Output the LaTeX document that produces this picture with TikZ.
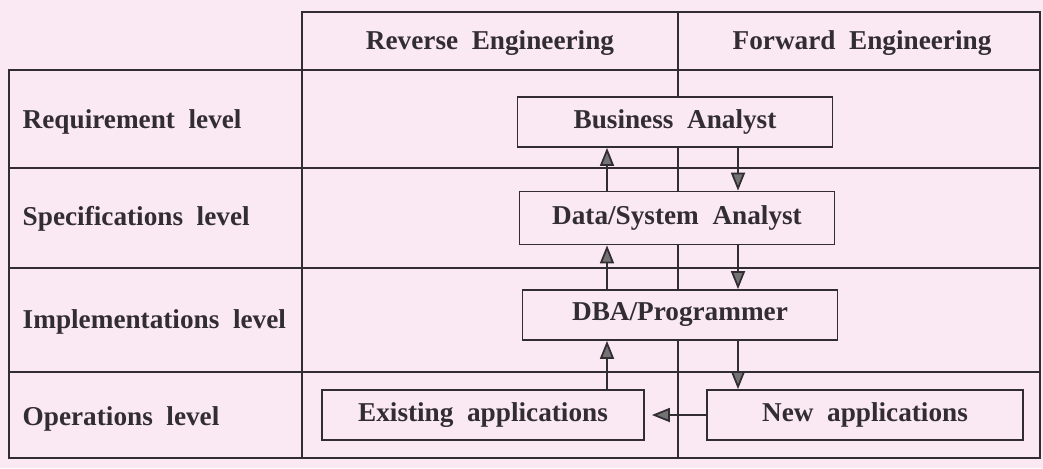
\documentclass[tikz,border=0pt]{standalone}
\usepackage{fontspec}
\setmainfont{Liberation Serif}
\usetikzlibrary{arrows.meta}
\definecolor{paper}{RGB}{250,233,242}
\definecolor{ink}{RGB}{50,45,50}

\begin{document}
\begin{tikzpicture}[x=0.02cm, y=-0.02cm, line width=1pt, ink,
    font=\fontsize{15.5}{18}\selectfont\bfseries,
    box/.style={draw=ink, fill=paper, minimum width=6.3cm, minimum height=1cm, inner sep=0pt},
    arr/.style={-{Triangle[length=0.36cm, width=0.28cm, fill=black!55]}}]
			%%%%% START %%%%%
			
			\fill[paper] (0, 0) rectangle (1043, 468);
			\useasboundingbox (0, 0) rectangle (1043, 468);
			
			% table grid
			\draw (302, 70) -- (302, 12) -- (1040, 12) -- (1040, 458) -- (9, 458) -- (9, 70) -- (1040, 70);
			\draw (302, 70) -- (302, 458);
			\draw (9, 168) -- (1040, 168);
			\draw (9, 268) -- (1040, 268);
			\draw (9, 372) -- (1040, 372);
			\draw (678, 12) -- (678, 458);
			
			% headings
			\node (rev) at (490, 43) {Reverse\ \ Engineering};
			\node (fwd) at (862, 43) {Forward\ \ Engineering};
			\node[anchor=west] (req) at (16, 122) {Requirement\ \ level};
			\node[anchor=west] (spec) at (16, 219) {Specifications\ \ level};
			\node[anchor=west] (impl) at (16, 322) {Implementations\ \ level};
			\node[anchor=west] (oper) at (16, 419) {Operations\ \ level};
			
			% roles
			\node[box] (ba) at (675, 122) {Business\ \ Analyst};
			\node[box, minimum height=1.06cm] (dsa) at (677, 218) {Data/System\ \ Analyst};
			\node[box] (dba) at (680, 315) {DBA/Programmer};
			\node[box, minimum width=6.44cm] (old) at (483, 415) {Existing\ \ applications};
			\node[box, minimum width=6.32cm] (new) at (865, 415) {New\ \ applications};
			
			\coordinate (up) at (607, 0);
			\coordinate (dn) at (738, 0);
			
			\draw[arr] (dsa.north -| up) -- (ba.south -| up);
			\draw[arr] (ba.south -| dn) -- (dsa.north -| dn);
			\draw[arr] (dba.north -| up) -- (dsa.south -| up);
			\draw[arr] (dsa.south -| dn) -- (dba.north -| dn);
			\draw[arr] (old.north -| up) -- (dba.south -| up);
			\draw[arr] (dba.south -| dn) -- (new.north -| dn);
			\draw[arr] (new.west) -- ([xshift=4]old.east);
			
			%%%%% END %%%%%
		\end{tikzpicture}
\end{document}
